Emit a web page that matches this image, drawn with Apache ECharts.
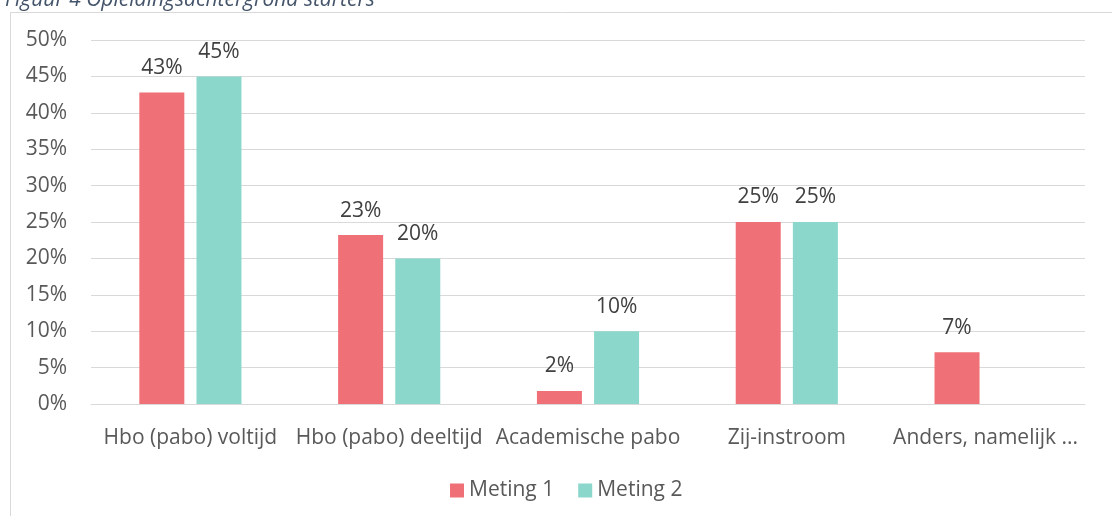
<!DOCTYPE html>
<html>
<head>
<meta charset="utf-8">
<script src="https://cdn.jsdelivr.net/npm/echarts@6/dist/echarts.min.js"></script>
<style>
  html, body { margin: 0; padding: 0; background: #fff; }
  #chart { width: 1112px; height: 516px; }
</style>
</head>
<body>
<div id="chart"></div>
<script>
const categories = ['Hbo (pabo) voltijd', 'Hbo (pabo) deeltijd', 'Academische pabo', 'Zij-instroom', 'Anders, namelijk ...'];
const meting1 = [42.8, 23.2, 1.8, 25, 7.1];
const meting2 = [45, 20, 10, 25, null];
const yTicks = [0, 5, 10, 15, 20, 25, 30, 35, 40, 45, 50];

const font = '"Open Sans", sans-serif';
const chart = echarts.init(document.getElementById('chart'));

const labelStyle = {
  show: true,
  position: 'top',
  distance: 14,
  color: '#404040',
  fontFamily: font,
  fontSize: 21,
  formatter: p => Math.round(p.value) + '%'
};

chart.setOption({
  animation: false,
  backgroundColor: '#fff',
  title: {
    text: 'Figuur 4 Opleidingsachtergrond starters',
    left: 0,
    top: -15,
    textStyle: { color: '#44546A', fontFamily: font, fontSize: 21, fontStyle: 'italic', fontWeight: 'normal' }
  },
  graphic: [{
    type: 'rect',
    shape: { x: 10.5, y: 12.5, width: 1110, height: 520 },
    style: { fill: 'none', stroke: '#d9d9d9', lineWidth: 1 },
    silent: true
  }],
  legend: {
    data: ['Meting 1', 'Meting 2'],
    bottom: 10,
    left: 445,
    icon: 'rect',
    itemWidth: 14,
    itemHeight: 14,
    itemGap: 24,
    textStyle: { color: '#595959', fontFamily: font, fontSize: 21 }
  },
  grid: { left: 91, right: 27, top: 40, bottom: 112 },
  xAxis: {
    type: 'category',
    data: categories,
    axisLine: { lineStyle: { color: '#d9d9d9', width: 1 } },
    axisTick: { show: false },
    axisLabel: { color: '#595959', fontFamily: font, fontSize: 21, margin: 24, interval: 0 }
  },
  yAxis: {
    type: 'value',
    min: yTicks[0],
    max: yTicks[yTicks.length - 1],
    interval: 5,
    axisLine: { show: false },
    axisTick: { show: false },
    splitLine: { lineStyle: { color: '#d9d9d9', width: 1 } },
    axisLabel: { color: '#595959', fontFamily: font, fontSize: 21, margin: 24, formatter: v => v + '%' }
  },
  series: [
    {
      name: 'Meting 1',
      type: 'bar',
      data: meting1,
      barWidth: 45,
      barGap: '27%',
      itemStyle: { color: '#F07077' },
      label: labelStyle
    },
    {
      name: 'Meting 2',
      type: 'bar',
      data: meting2,
      barWidth: 45,
      itemStyle: { color: '#8BD7CB' },
      label: labelStyle
    }
  ]
});
</script>
</body>
</html>
